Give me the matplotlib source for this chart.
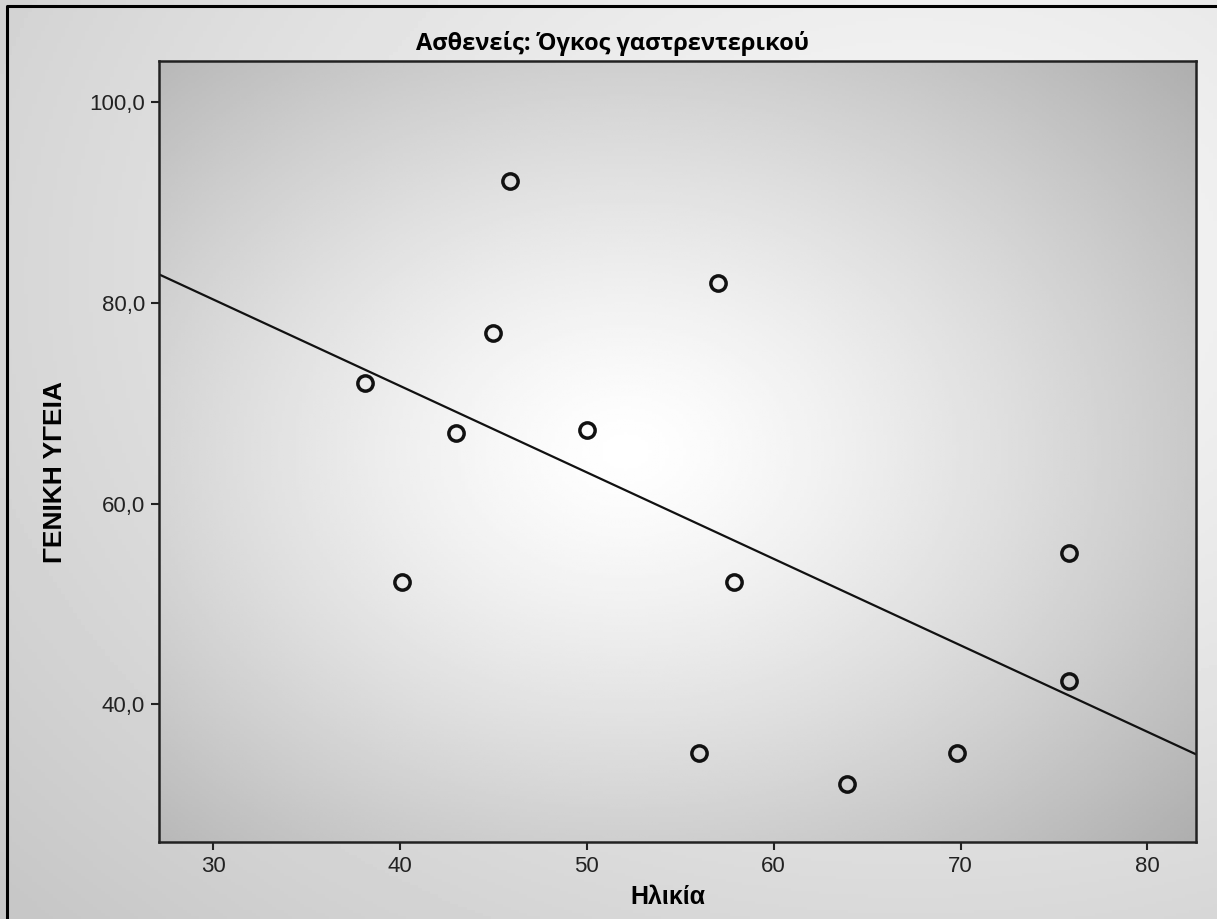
import matplotlib.pyplot as plt
import numpy as np
from matplotlib.ticker import FuncFormatter

# data
age = [38.1, 40.1, 43.0, 45.0, 45.9, 50.0, 56.0, 57.0, 57.9, 63.9, 69.8, 75.8, 75.8]
health = [72.0, 52.2, 67.0, 77.0, 92.1, 67.3, 35.2, 82.0, 52.2, 32.1, 35.2, 55.1, 42.3]

x_ticks = [30, 40, 50, 60, 70, 80]
y_ticks = [40, 60, 80, 100]

title = "Ασθενείς: Όγκος γαστρεντερικού"
x_label = "Ηλικία"
y_label = "ΓΕΝΙΚΗ ΥΓΕΙΑ"


def radial(n, cx, cy, inner, outer, scale):
    yy, xx = np.mgrid[0:1:n * 1j, 0:1:n * 1j]
    r = np.sqrt(((xx - cx) / scale[0]) ** 2 + ((yy - cy) / scale[1]) ** 2)
    r = np.clip(r, 0, 1)
    return inner + (outer - inner) * r ** 1.3


def main():
    plt.rcParams['font.family'] = ['Liberation Sans', 'DejaVu Sans']
    fig = plt.figure(figsize=(12.17, 9.19), dpi=100)

    # figure background gradient
    bg = fig.add_axes([0, 0, 1, 1], zorder=-5)
    bg.imshow(radial(300, 0.75, 0.3, 0.97, 0.78, (1.0, 1.0)), cmap='gray',
              vmin=0, vmax=1, extent=[0, 1, 0, 1], aspect='auto', origin='upper')
    bg.set_xlim(0, 1)
    bg.set_ylim(0, 1)
    bg.axis('off')
    # outer frame (left and top visible)
    bg.plot([0.006, 0.006, 1.0], [0.0, 0.993, 0.993], color='black', lw=2.2)

    ax = fig.add_axes([0.1307, 0.0838, 0.852, 0.8498])
    xlim = (27.1, 82.6)
    ylim = (26.3, 104.1)
    ax.imshow(radial(300, 0.45, 0.5, 1.0, 0.68, (0.75, 0.75)), cmap='gray',
              vmin=0, vmax=1, extent=[xlim[0], xlim[1], ylim[0], ylim[1]],
              aspect='auto', origin='upper', zorder=0)

    # linear fit
    slope, intercept = np.polyfit(age, health, 1)
    xs = np.array(xlim)
    ax.plot(xs, intercept + slope * xs, color='#111111', lw=1.6, zorder=2)

    ax.plot(age, health, linestyle='None', marker='o', markersize=11,
            markerfacecolor='none', markeredgecolor='#111111', markeredgewidth=2.5, zorder=3)

    ax.set_xlim(*xlim)
    ax.set_ylim(*ylim)
    ax.set_xticks(x_ticks)
    ax.set_yticks(y_ticks)
    ax.yaxis.set_major_formatter(FuncFormatter(lambda v, p: f"{v:.1f}".replace('.', ',')))
    ax.tick_params(axis='both', direction='out', length=6, width=1.5, labelsize=16,
                   colors='#222222', pad=4)
    for s in ax.spines.values():
        s.set_linewidth(1.8)
        s.set_color('#222222')

    fig.text(0.503, 0.953, title, ha='center', va='center', fontsize=17,
             fontweight='bold', family=['Open Sans', 'DejaVu Sans'])
    fig.text(0.549, 0.024, x_label, ha='center', va='center', fontsize=18, fontweight='bold')
    fig.text(0.045, 0.486, y_label, ha='center', va='center', fontsize=19,
             fontweight='bold', rotation=90)

    plt.savefig("out.png", dpi=100)


if __name__ == "__main__":
    main()
